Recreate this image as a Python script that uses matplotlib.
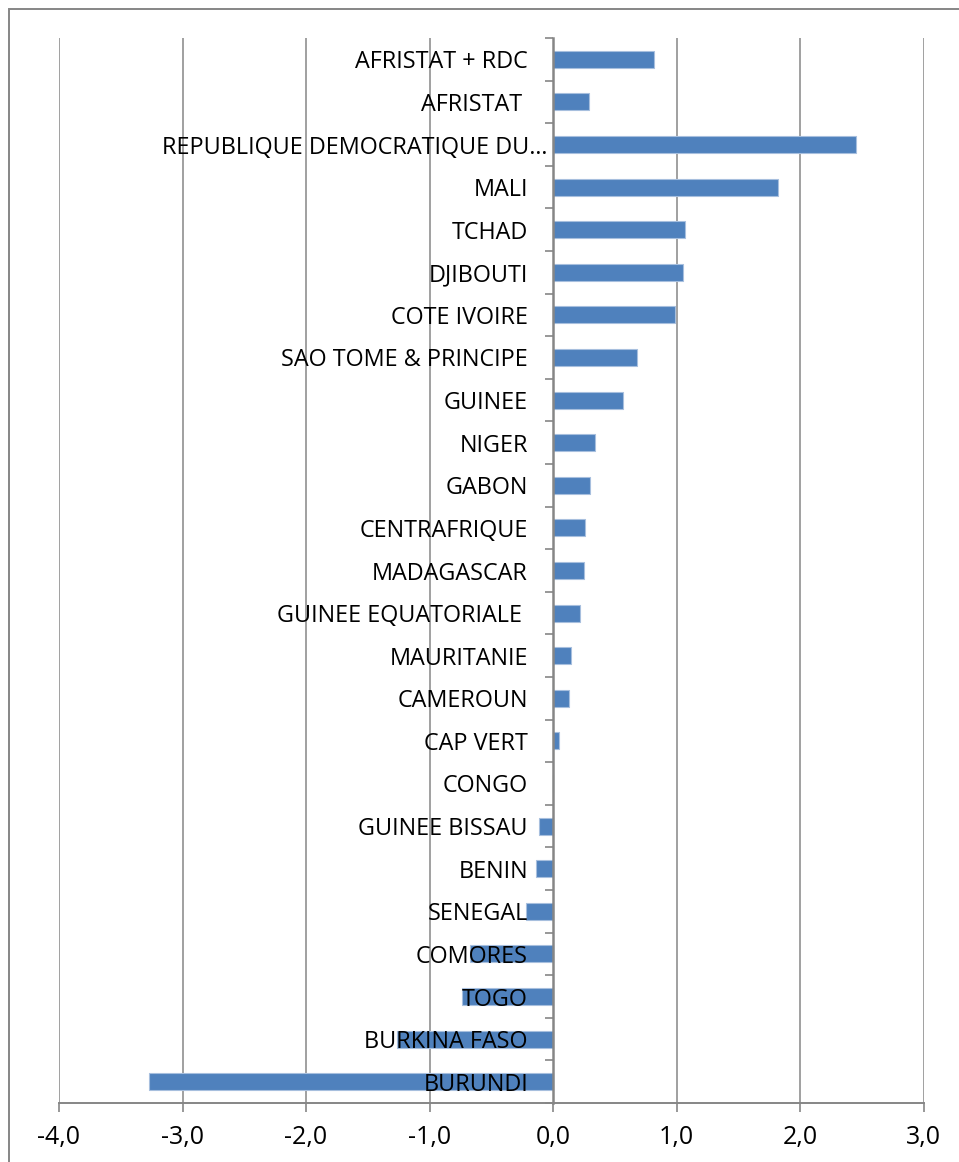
import matplotlib.pyplot as plt
from matplotlib.patches import Rectangle
from matplotlib.transforms import ScaledTranslation

plt.rcParams["font.family"] = ["Open Sans", "DejaVu Sans"]

# pays, du haut vers le bas
pays = ["AFRISTAT + RDC", "AFRISTAT ", "REPUBLIQUE DEMOCRATIQUE DU\u2026", "MALI",
        "TCHAD", "DJIBOUTI", "COTE IVOIRE", "SAO TOME & PRINCIPE", "GUINEE",
        "NIGER", "GABON", "CENTRAFRIQUE", "MADAGASCAR", "GUINEE EQUATORIALE ",
        "MAURITANIE", "CAMEROUN", "CAP VERT", "CONGO", "GUINEE BISSAU",
        "BENIN", "SENEGAL", "COMORES", "TOGO", "BURKINA FASO", "BURUNDI"]
valeurs = [0.82, 0.29, 2.45, 1.82, 1.07, 1.05, 0.99, 0.68, 0.57,
           0.34, 0.30, 0.26, 0.25, 0.22, 0.145, 0.13, 0.045, 0.0, -0.11,
           -0.135, -0.22, -0.675, -0.735, -1.26, -3.27]
xticks = [-4, -3, -2, -1, 0, 1, 2, 3]
xlabels = ["-4,0", "-3,0", "-2,0", "-1,0", "0,0", "1,0", "2,0", "3,0"]

W, H = 959, 1162
gris = "#868686"
bleu = "#4F81BD"

fig = plt.figure(figsize=(W / 100, H / 100), dpi=100)
ax = fig.add_axes([59 / W, 1 - 1103 / H, (923.5 - 59) / W, (1103 - 38) / H])

# axe vertical place sur x = 0 (avant de regler les ticks)
ax.spines["left"].set_position(("data", 0))
ax.spines["left"].set_color(gris)
ax.spines["left"].set_linewidth(1.8)
ax.spines["bottom"].set_color(gris)
ax.spines["bottom"].set_linewidth(1.4)
ax.spines["top"].set_visible(False)
ax.spines["right"].set_visible(False)

pos = list(range(len(pays)))[::-1]
ax.barh(pos, valeurs, height=0.4, color=bleu, edgecolor="#A7BFDE",
        linewidth=0.8, zorder=1)

ax.set_xlim(-4, 3)
ax.set_ylim(-0.5, len(pays) - 0.5)

# quadrillage vertical derriere les barres
for t in xticks:
    if t != 0:
        ax.axvline(t, color=gris, linewidth=1.1, zorder=0)

ax.set_xticks(xticks)
ax.set_xticklabels(xlabels)
ax.tick_params(axis="x", direction="out", length=6.5, width=1.2, color=gris,
               pad=9, labelsize=18)

ax.set_yticks(pos)
ax.set_yticklabels(pays)
ax.set_yticks([p - 0.5 for p in range(len(pays) + 1)], minor=True)
ax.tick_params(axis="y", which="major", length=0, pad=18, labelsize=16.8)
ax.tick_params(axis="y", which="minor", direction="out", length=6, width=1.2, color=gris)

# le libelle tronque deborde un peu vers l'axe, comme dans Excel
lbl = ax.get_yticklabels()[2]
lbl.set_transform(lbl.get_transform() + ScaledTranslation(0.19, 0, fig.dpi_scale_trans))

# cadre du graphique
fig.patches.append(Rectangle((8.5 / W, -0.05), 1.1, 1.05 - 8.5 / H,
                             transform=fig.transFigure, fill=False,
                             edgecolor=gris, linewidth=1.4))

fig.savefig("out.png", dpi=100)
